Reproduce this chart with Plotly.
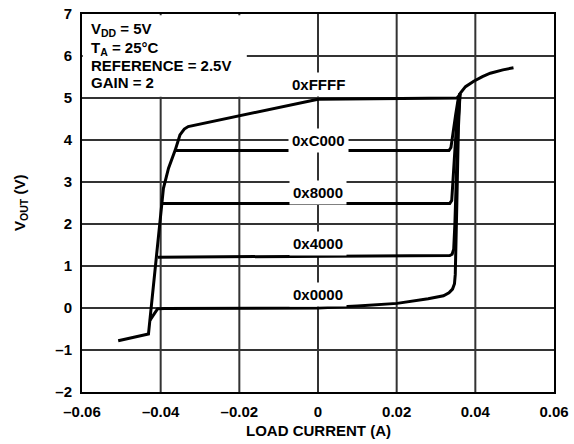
import plotly.graph_objects as go

# ---- data ----
x_ffff = [-0.0508, -0.0431, -0.0393, -0.0380, -0.0363, -0.0351, -0.0340, -0.0330, 0.0, 0.0200, 0.0353, 0.0358, 0.0362, 0.0375, 0.0396, 0.0418, 0.0438, 0.0470, 0.0497]
y_ffff = [-0.78, -0.62, 2.85, 3.33, 3.76, 4.12, 4.26, 4.32, 4.97, 4.99, 5.00, 5.05, 5.12, 5.27, 5.40, 5.51, 5.59, 5.67, 5.72]

x_c000 = [-0.0363, -0.0200, 0.0, 0.0200, 0.0333, 0.0338, 0.0343, 0.0350, 0.0356, 0.0361]
y_c000 = [3.75, 3.75, 3.75, 3.75, 3.75, 3.82, 4.10, 4.60, 4.95, 5.10]

x_8000 = [-0.0395, -0.0200, 0.0, 0.0200, 0.0335, 0.0340, 0.0343, 0.0348, 0.0355, 0.0360]
y_8000 = [2.49, 2.49, 2.49, 2.49, 2.49, 2.56, 3.00, 4.00, 4.80, 5.10]

x_4000 = [-0.0407, -0.0200, 0.0, 0.0200, 0.0335, 0.0341, 0.0345, 0.0348, 0.0352, 0.0356, 0.0361]
y_4000 = [1.21, 1.22, 1.23, 1.24, 1.25, 1.28, 1.40, 2.00, 3.20, 4.40, 5.10]

x_0000 = [-0.0427, -0.0415, -0.0408, -0.0390, -0.0200, -0.0100, 0.0, 0.0100, 0.0201, 0.0280, 0.0319, 0.0333, 0.0342, 0.0347, 0.0349, 0.0353, 0.0357, 0.0361]
y_0000 = [-0.29, -0.10, -0.02, -0.01, -0.01, -0.005, 0.0, 0.05, 0.11, 0.22, 0.29, 0.36, 0.45, 0.58, 0.80, 2.50, 4.30, 5.10]

codes = ["0xFFFF", "0xC000", "0x8000", "0x4000", "0x0000"]
label_y = [5.33, 4.0, 2.75, 1.54, 0.31]

x_ticks = [-0.06, -0.04, -0.02, 0, 0.02, 0.04, 0.06]
x_ticktext = ["–0.06", "–0.04", "–0.02", "0", "0.02", "0.04", "0.06"]
y_ticks = [-2, -1, 0, 1, 2, 3, 4, 5, 6, 7]
y_ticktext = ["–2", "–1", "0", "1", "2", "3", "4", "5", "6", "7"]

conditions = ["V<sub>DD</sub> = 5V", "T<sub>A</sub> = 25°C", "REFERENCE = 2.5V", "GAIN = 2"]

FONT = "Liberation Sans, Arial, Helvetica, sans-serif"
GRID = "#333333"
X_RANGE = [x_ticks[0], x_ticks[-1]]
Y_RANGE = [y_ticks[0], y_ticks[-1]]

fig = go.Figure()

# grid lines at the tick values, drawn as a background trace
gx, gy = [], []
for xv in x_ticks[1:-1]:
    gx += [xv, xv, None]
    gy += [Y_RANGE[0], Y_RANGE[1], None]
for yv in y_ticks[1:-1]:
    gx += [X_RANGE[0], X_RANGE[1], None]
    gy += [yv, yv, None]
fig.add_trace(go.Scatter(x=gx, y=gy, mode="lines", line=dict(color=GRID, width=2),
                         hoverinfo="skip", showlegend=False))

for xs, ys, name in [(x_ffff, y_ffff, codes[0]), (x_c000, y_c000, codes[1]),
                     (x_8000, y_8000, codes[2]), (x_4000, y_4000, codes[3]),
                     (x_0000, y_0000, codes[4])]:
    fig.add_trace(go.Scatter(x=xs, y=ys, mode="lines", name=name,
                             line=dict(color="black", width=3), showlegend=False))

# code labels with white backgrounds
for code, ly in zip(codes, label_y):
    fig.add_annotation(x=0, y=ly, xref="x", yref="y", text=code, showarrow=False,
                       bgcolor="white", borderpad=3,
                       font=dict(family=FONT, size=15, color="black", weight="bold"))

# white box behind the conditions text (hides gridlines)
fig.add_shape(type="rect", xref="x", yref="y", x0=-0.0598, x1=-0.0181, y0=5.03, y1=6.97,
              fillcolor="white", line=dict(width=0), layer="above")

cond_y = [0.9577, 0.910, 0.865, 0.8175]
for t, py in zip(conditions, cond_y):
    fig.add_annotation(x=0.0148, y=py, xref="paper", yref="paper", text=t,
                       showarrow=False, xanchor="left", yanchor="middle", align="left",
                       font=dict(family=FONT, size=15, color="black", weight="bold"))

# axis titles
fig.add_annotation(x=0.5, y=-0.103, xref="paper", yref="paper", text="LOAD CURRENT (A)",
                   showarrow=False, xanchor="center", yanchor="middle",
                   font=dict(family=FONT, size=15, color="black", weight="bold"))
fig.add_annotation(x=-0.1315, y=0.5, xref="paper", yref="paper", text="V<sub>OUT</sub> (V)",
                   showarrow=False, xanchor="center", yanchor="middle", textangle=-90,
                   font=dict(family=FONT, size=15, color="black", weight="bold"))

axis_common = dict(showgrid=True, gridcolor=GRID, gridwidth=1,
                   zeroline=False,
                   showline=True, linecolor="black", linewidth=2, mirror=True,
                   ticks="outside", ticklen=5, tickcolor="rgba(0,0,0,0)",
                   tickfont=dict(family=FONT, size=15, color="black", weight="bold"))

fig.update_layout(
    width=574, height=444, margin=dict(l=82, r=20, t=14, b=52),
    template="none",
    paper_bgcolor="white", plot_bgcolor="white",
    font=dict(family=FONT, size=15, color="black"),
    xaxis=dict(range=X_RANGE, tickmode="array", tickvals=x_ticks, ticktext=x_ticktext,
               **axis_common),
    yaxis=dict(range=Y_RANGE, tickmode="array", tickvals=y_ticks, ticktext=y_ticktext,
               **axis_common),
)

fig.write_html("out.html", config={"displayModeBar": False},
               post_script="document.body.style.margin='0';")
